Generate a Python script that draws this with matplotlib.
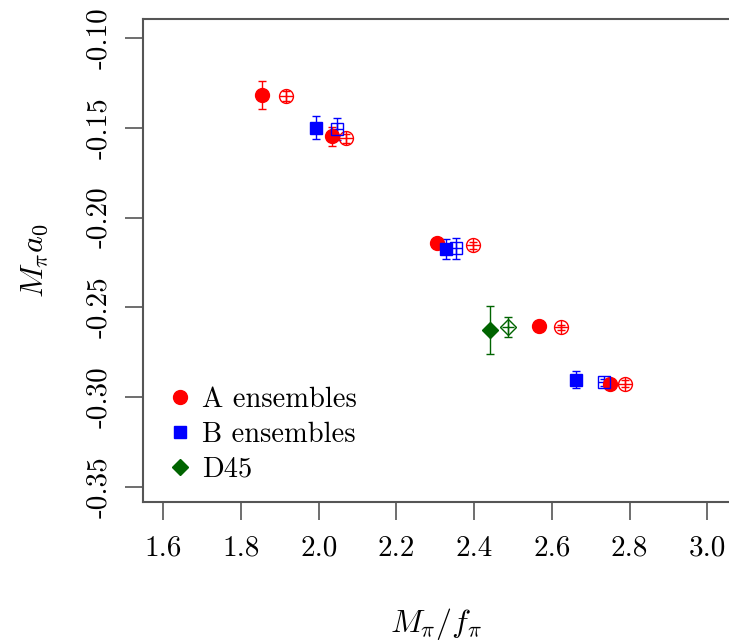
import matplotlib
matplotlib.use("Agg")
import matplotlib.pyplot as plt
from matplotlib.lines import Line2D

plt.rcParams['font.family'] = 'serif'
plt.rcParams['font.serif'] = ['cmr10', 'DejaVu Serif']
plt.rcParams['mathtext.fontset'] = 'cm'
plt.rcParams['axes.unicode_minus'] = False
plt.rcParams['axes.formatter.use_mathtext'] = True

# A ensembles: filled = measured, open = alternative
a_x = [1.855, 2.034, 2.305, 2.567, 2.751]
a_y = [-0.1317, -0.1548, -0.2144, -0.2604, -0.2926]
a_err = [0.0079, 0.0055, 0.0020, 0.0010, 0.0020]
a2_x = [1.917, 2.070, 2.397, 2.623, 2.789]
a2_y = [-0.1322, -0.1558, -0.2154, -0.2611, -0.2926]
a2_err = [0.0030, 0.0025, 0.0020, 0.0015, 0.0020]

# B ensembles
b_x = [1.992, 2.328, 2.661]
b_y = [-0.1500, -0.2176, -0.2904]
b_err = [0.0064, 0.0056, 0.0047]
b2_x = [2.048, 2.354, 2.735]
b2_y = [-0.1506, -0.2172, -0.2917]
b2_err = [0.0060, 0.0056, 0.0020]

# D45
d_x = [2.440]
d_y = [-0.2626]
d_err = [0.0132]
d2_x = [2.487]
d2_y = [-0.2608]
d2_err = [0.0056]

xticks = [1.6, 1.8, 2.0, 2.2, 2.4, 2.6, 2.8, 3.0]
yticks = [-0.35, -0.30, -0.25, -0.20, -0.15, -0.10]

red = '#ff0000'
blue = '#0000ff'
green = '#006400'

fig = plt.figure(figsize=(7.29, 6.41), dpi=100)
ax = fig.add_axes([0.1955, 0.2168, 0.806, 0.7528])

def filled(x, y, e, c, m, ms):
    ax.errorbar(x, y, yerr=e, fmt=m, color=c, ms=ms, elinewidth=1.0,
                capsize=3, capthick=1.0, mec=c, mfc=c)

def opened(x, y, e, c, m, ms):
    ax.errorbar(x, y, yerr=e, fmt=m, color=c, ms=ms, elinewidth=1.0,
                capsize=3, capthick=1.0, mec=c, mfc='none', mew=1.0)
    ax.plot(x, y, '+', color=c, ms=ms, mew=1.0)

filled(a_x, a_y, a_err, red, 'o', 10)
opened(a2_x, a2_y, a2_err, red, 'o', 10)
filled(b_x, b_y, b_err, blue, 's', 8.5)
opened(b2_x, b2_y, b2_err, blue, 's', 8.5)
filled(d_x, d_y, d_err, green, 'D', 8)
opened(d2_x, d2_y, d2_err, green, 'D', 8)

ax.set_xlim(1.5466, 3.0588)
ax.set_ylim(-0.3585, -0.0896)
ax.set_xticks(xticks)
ax.set_xticklabels(['%.1f' % v for v in xticks])
ax.set_yticks(yticks)
ax.set_yticklabels(['%.2f' % v for v in yticks], rotation=90, va='center')

for s in ax.spines.values():
    s.set_color('#555555')
    s.set_linewidth(1.5)
ax.tick_params(axis='both', length=13, width=1.2, color='#555555',
               labelsize=21, pad=11)
ax.tick_params(axis='y', pad=9)

ax.set_xlabel(r'$M_\pi/f_\pi$', fontsize=23, labelpad=32)
ax.set_ylabel(r'$M_\pi a_0$', fontsize=23, labelpad=26)

handles = [
    Line2D([], [], marker='o', ls='none', color=red, ms=10),
    Line2D([], [], marker='s', ls='none', color=blue, ms=8),
    Line2D([], [], marker='D', ls='none', color=green, ms=8),
]
ax.legend(handles, ['A ensembles', 'B ensembles', 'D45'], loc='upper left',
          bbox_to_anchor=(0.0, 0.28), frameon=False, fontsize=20.5,
          handletextpad=0.2, labelspacing=0.3, handlelength=1.2,
          borderaxespad=0.3)

fig.savefig('out.png', dpi=100)
